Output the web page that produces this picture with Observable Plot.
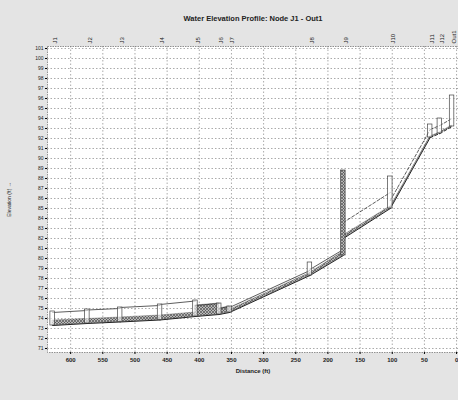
<!DOCTYPE html>
<html>
<head>
<meta charset="utf-8">
<script src="https://cdn.jsdelivr.net/npm/d3@7"></script>
<script src="https://cdn.jsdelivr.net/npm/@observablehq/plot@0.6"></script>
<style>
  html, body { margin: 0; padding: 0; background: #e4e4e4; }
  #chart svg { display: block; }
</style>
</head>
<body>
<div id="chart"></div>
<script>
// ---- data ----
const titleText = "Water Elevation Profile: Node J1 - Out1";
const nodeNames = ["J1","J2","J3","J4","J5","J6","J7","J8","J9","J10","J11","J12","Out1"];
const nodeDist  = [628, 574, 523, 461, 406, 369, 353, 228, 176, 103, 41, 26, 7];
const nodeInvert = [73.3, 73.5, 73.65, 73.85, 74.2, 74.4, 74.6, 78.3, 80.3, 85.0, 92.1, 92.5, 93.2];
const nodeTop    = [74.7, 74.9, 75.1, 75.4, 75.8, 75.5, 75.2, 79.6, 88.8, 88.2, 93.4, 94.0, 96.3];
const nodeFull   = [false,false,false,false,false,false,false,false,true,false,false,false,false];

// links: upstream node index -> next node
const linkUpInv   = [73.3, 73.5, 73.65, 73.85, 74.2, 74.4, 74.6, 78.3, 82.0, 85.0, 92.1, 92.5];
const linkDnInv   = [73.5, 73.65, 73.85, 74.2, 74.4, 74.6, 78.3, 80.3, 85.0, 92.1, 92.5, 93.2];
const linkDiam    = [1.3, 1.35, 1.45, 1.55, 1.1, 0.6, 0.5, 0.6, 1.6, 0.8, 0.8, 0.8];
const linkUpWater = [73.8, 73.95, 74.1, 74.3, 75.3, 75.0, 74.85, 78.55, 82.3, 85.1, 92.2, 92.6];
const linkDnWater = [73.95, 74.1, 74.3, 74.6, 75.5, 75.2, 78.55, 80.7, 85.2, 92.2, 92.6, 93.3];
const linkDashed  = [false,false,false,false,false,false,false,false,true,true,true,true];

const xTicks = [600, 550, 500, 450, 400, 350, 300, 250, 200, 150, 100, 50, 0];
const yTicks = d3.range(71, 102);

// ---- derived tables ----
const links = linkUpInv.map((u, i) => ({
  i, x1: nodeDist[i], x2: nodeDist[i + 1],
  inv1: u, inv2: linkDnInv[i],
  crown1: u + linkDiam[i], crown2: linkDnInv[i] + linkDiam[i],
  w1: Math.min(linkUpWater[i], u + linkDiam[i]),
  w2: Math.min(linkDnWater[i], linkDnInv[i] + linkDiam[i]),
  dashed: linkDashed[i]
}));
const waterRows = links.flatMap(l => [
  {link: l.i, d: l.x1, lo: l.inv1, hi: l.w1},
  {link: l.i, d: l.x2, lo: l.inv2, hi: l.w2}
]);
const invertRows = links.flatMap(l => [
  {link: l.i, d: l.x1, e: l.inv1, dashed: l.dashed && l.i > 9},
  {link: l.i, d: l.x2, e: l.inv2, dashed: l.dashed && l.i > 9}
]);
const crownRows = links.flatMap(l => [
  {link: l.i, d: l.x1, e: l.crown1, dashed: l.dashed},
  {link: l.i, d: l.x2, e: l.crown2, dashed: l.dashed}
]);
const nodes = nodeNames.map((n, i) => ({
  name: n, d: nodeDist[i], lo: nodeInvert[i], hi: nodeTop[i], full: nodeFull[i]
}));

const hatch = "url(#hatch)";

const chart = Plot.plot({
  width: 458,
  height: 400,
  marginLeft: 47,
  marginRight: 0,
  marginTop: 46,
  marginBottom: 48,
  style: {fontFamily: "Liberation Sans, Arial, sans-serif", background: "transparent", overflow: "visible"},
  x: {domain: [636, -3]},
  y: {domain: [70.6, 101.2]},
  marks: [
    Plot.frame({fill: "white", stroke: "none"}),
    Plot.gridY(yTicks, {stroke: "#666", strokeOpacity: 0.55, strokeDasharray: "1.5,2"}),
    Plot.gridX(xTicks, {stroke: "#666", strokeOpacity: 0.55, strokeDasharray: "1.5,2"}),
    // water in links
    Plot.areaY(waterRows, {x: "d", y1: "lo", y2: "hi", z: "link", fill: hatch, stroke: "#555", strokeWidth: 0.4}),
    // crown and invert lines
    Plot.line(crownRows.filter(r => !r.dashed), {x: "d", y: "e", z: "link", stroke: "#333", strokeWidth: 0.8}),
    Plot.line(crownRows.filter(r => r.dashed), {x: "d", y: "e", z: "link", stroke: "#333", strokeWidth: 0.8, strokeDasharray: "3,2"}),
    Plot.line(invertRows.filter(r => !r.dashed), {x: "d", y: "e", z: "link", stroke: "#222", strokeWidth: 1}),
    Plot.line(invertRows.filter(r => r.dashed), {x: "d", y: "e", z: "link", stroke: "#222", strokeWidth: 1, strokeDasharray: "3,2"}),
    // nodes
    Plot.rect(nodes, {x1: d => d.d + 3.5, x2: d => d.d - 3.5, y1: "lo", y2: "hi",
      fill: d => d.full ? hatch : "white", fillOpacity: d => d.full ? 1 : 0.6, stroke: "#444", strokeWidth: 0.7}),
    Plot.frame({stroke: "#777", strokeWidth: 0.8, strokeDasharray: "1.5,1"}),
    Plot.axisY(yTicks, {tickSize: 2, fontSize: 5, tickPadding: 2, label: "Elevation (ft)", labelAnchor: "center", labelOffset: 40, fill: "#222"}),
    Plot.axisX(xTicks, {tickSize: 2, fontSize: 6, tickPadding: 3, fontWeight: "bold", label: "Distance (ft)", labelAnchor: "center", labelOffset: 20, labelArrow: "none", fill: "#222"}),
    // node labels along the top
    Plot.text(nodes, {x: "d", text: "name", frameAnchor: "top", dy: -3, rotate: -90, textAnchor: "start", fontSize: 6, fill: "#222"}),
    // title
    Plot.text([titleText], {frameAnchor: "top", dy: -31, fontSize: 7.5, fontWeight: "bold", fill: "#222"})
  ]
});

// hatch pattern
const ns = "http://www.w3.org/2000/svg";
const defs = document.createElementNS(ns, "defs");
defs.innerHTML = `<pattern id="hatch" patternUnits="userSpaceOnUse" width="3" height="3">
  <rect width="3" height="3" fill="#b8b8b8"/>
  <path d="M0,3 L3,0 M0,0 L3,3" stroke="#444" stroke-width="0.6"/>
</pattern>`;
chart.insertBefore(defs, chart.firstChild);

document.getElementById("chart").appendChild(chart);
</script>
</body>
</html>
